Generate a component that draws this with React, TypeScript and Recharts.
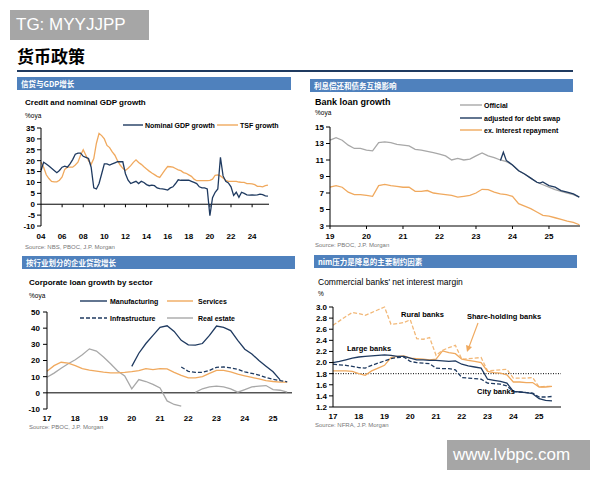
import React from "react";
import { LineChart, Line, XAxis, YAxis, ReferenceLine } from "recharts";

const NAVY = "#1f3a60";
const ORANGE = "#f0a95e";
const LIGHT_ORANGE = "#f2b878";
const GRAY = "#a8a8a8";
const BAR = "#4f81bd";
const LATIN = "'Liberation Sans', Arial, sans-serif";
const CJK = "'Noto Sans CJK SC', sans-serif";

// Credit and nominal GDP growth, quarterly from Q1 2004
const gdpYears = [2004, 2006, 2008, 2010, 2012, 2014, 2016, 2018, 2020, 2022, 2024];
const nominalGdp = [
  15.5, 19.3, 18.5, 17.5, 16.5, 15.5, 14.5, 15.5, 17, 17.5, 17, 18.5,
  20.5, 23, 23.5, 23.5, 22, 21.5, 21, 17, 7.5, 7, 9.5, 14,
  18.5, 18.5, 18, 18.5, 19, 19.5, 19.5, 19.5, 14, 11, 9.5, 10,
  10.5, 9.5, 10.5, 10, 9, 8.5, 8.8, 8.5, 7.5, 7.2, 7, 6.8,
  6.5, 7.5, 8, 9.5, 11.2, 11, 11, 11, 11, 10.5, 10, 9.5,
  8, 7.5, 7.5, 7, -5.3, 3, 5.5, 7, 21.5, 13, 10.5, 9.8,
  8, 4, 5.5, 3.2, 5.5, 5, 4.3, 4.2, 4.3, 4.2, 4.3, 4.6,
  4.4, 3.8, 3.7,
];
const tsfGrowth = [
  19.3, 17, 13.5, 11.8, 10.5, 10.3, 10.3, 11, 12.5, 16, 17, 17,
  17, 18, 19.3, 22.5, 25, 22.5, 20, 18.3, 21, 28, 32.5, 31.5,
  30, 27, 26, 24, 22.5, 20, 18, 16.5, 15.5, 16.5, 17.7, 19.2,
  20.4, 19.2, 18.3, 17.2, 16.2, 15.2, 14.3, 13.6, 12.8, 12.3, 14, 15.8,
  17.3, 17.2, 17, 16.4, 15.8, 15.4, 14.5, 14.2, 13.5, 12.8, 11.5, 10.8,
  10.8, 10.8, 10.8, 10.8, 11, 11.5, 13.3, 13.5, 13, 12, 11, 10.5,
  10.5, 10.5, 10.5, 10.2, 10, 10, 9.5, 9.5, 9.3, 9, 8.2, 8.2,
  8, 8.5, 8.8,
];

// Bank loan growth, every two months from Jan 2019
const loanYears = [2019, 2020, 2021, 2022, 2023, 2024, 2025];
const officialLoans = [
  13.4, 13.7, 13.4, 12.8, 12.4, 12.4, 12.2, 12.1, 13.1, 13.2, 13.1, 12.9,
  12.8, 12.7, 12.3, 12.2, 12.05, 11.9, 11.7, 11.5, 11.0, 11.2, 11.0, 11.1,
  11.5, 11.85, 11.5, 11.3, 11.0, 10.8, 10.4, 9.7, 9.3, 8.8, 8.3, 8.0,
  7.7, 7.4, 7.2, 7.0, 6.8, 6.5,
];
const exInterest = [
  7.7, 7.9, 7.7, 7.1, 6.8, 6.8, 6.7, 6.6, 7.9, 8.05, 7.9, 7.8,
  7.7, 7.7, 7.2, 7.2, 7.3, 7.0, 6.9, 6.8, 6.7, 6.5, 6.6, 6.7,
  7.0, 7.45, 7.4, 7.1, 6.9, 6.8, 6.6, 5.7, 5.4, 5.1, 4.7, 4.3,
  4.2, 4.0, 3.8, 3.6, 3.45, 3.15,
];
const swapDates = [
  2023.67, 2023.75, 2023.83, 2024.0, 2024.17, 2024.33, 2024.5, 2024.67,
  2024.75, 2024.83, 2025.0, 2025.17, 2025.33, 2025.5, 2025.67, 2025.83,
];
const adjustedLoans = [
  10.95, 11.95, 10.95, 10.4, 9.7, 9.3, 8.8, 8.3, 8.2, 8.35, 7.9, 7.7, 7.3, 7.1, 6.9, 6.5,
];

// Corporate loan growth by sector, quarterly
const sectorYears = [2017, 2018, 2019, 2020, 2021, 2022, 2023, 2024, 2025];
const manufacturing = [
  16.4, 24.5, 30.5, 35.5, 40.5, 41.5, 38, 32.5, 29.7, 29.5, 30.5, 35.5,
  41.3, 40.5, 38.5, 32.5, 27, 24, 20, 16.5, 13, 8,
];
const services = [
  13.3, 16.8, 18.9, 18.4, 16.8, 15, 14, 13.4, 12.8, 12.3, 12.3, 12.6,
  13.1, 13.7, 15, 14.4, 15, 14.8, 12.7, 10.8, 9.2, 9.2, 10, 12,
  13.9, 13.9, 12.9, 11.6, 10.5, 9.5, 8.6, 7.6, 7, 6.6, 6.6,
];
const infrastructure = [
  16, 13.3, 12.7, 12.7, 13.9, 15.8, 16, 15.4, 14.5, 13, 12, 11, 9.5, 8.3, 7.6, 6.8,
];
const realEstate = [
  9.6, 12.2, 15.2, 18, 20.5, 23.6, 27.2, 25.8, 22.2, 18, 13.5, 10.5,
  2.5, 8.2, 7, 5.2, 3, -5, -7.2, -8.2, null, 0.3, 2.5, 3.7,
  4.1, 3.7, 2.5, 0.4, 2, 3.7, 4.1, 4.5, 2, 1.6, 0.4,
];

// Net interest margin, quarterly from Q1 2017
const nimYears = [2017, 2018, 2019, 2020, 2021, 2022, 2023, 2024, 2025];
const nimTicks = [1.2, 1.4, 1.6, 1.8, 2.0, 2.2, 2.4, 2.6, 2.8, 3.0];
const largeBanks = [
  2.0, 2.02, 2.05, 2.08, 2.1, 2.11, 2.12, 2.13, 2.14, 2.13, 2.11, 2.11,
  2.08, 2.05, 2.05, 2.04, 2.04, 2.03, 2.02, 2.03, 1.97, 1.94, 1.92, 1.9,
  1.7, 1.68, 1.66, 1.63, 1.48, 1.47, 1.46, 1.44, 1.35, 1.32, 1.31,
];
const cityBanks = [
  1.97, 1.96, 1.95, 1.93, 1.91, 1.9, 1.95, 1.99, 2.03, 2.07, 2.09, 2.1,
  2.02, 2.0, 1.99, 1.98, 1.9, 1.89, 1.89, 1.87, 1.73, 1.72, 1.71, 1.7,
  1.63, 1.62, 1.61, 1.58, 1.48, 1.47, 1.46, 1.45, 1.38, 1.38, 1.39,
];
const shareHolding = [
  1.85, 1.85, 1.85, 1.84, 1.8, 1.77, 1.85, 1.9, 1.95, 2.09, 2.11, 2.12,
  2.08, 2.07, 2.06, 2.05, 2.06, 2.21, 2.18, 2.16, 2.06, 2.04, 2.02, 2.0,
  1.84, 1.82, 1.81, 1.78, 1.65, 1.65, 1.64, 1.64, 1.56, 1.56, 1.57,
];
const ruralBanks = [
  2.67, 2.75, 2.83, 2.9, 2.88, 2.85, 2.9, 2.95, 3.0, 2.69, 2.7, 2.72,
  2.77, 2.43, 2.42, 2.45, 2.13, 2.22, 2.27, 2.31, 2.06, 2.07, 2.08, 2.09,
  1.85, 1.86, 1.87, 1.88, 1.72, 1.72, 1.72, 1.73, 1.56, 1.57, 1.57,
];

const stepped = (start: number, step: number, values: (number | null)[]) =>
  values.map((v, i) => ({ x: start + i * step, y: v }));
const paired = (xs: number[], values: number[]) => xs.map((x, i) => ({ x, y: values[i] }));
const yy = (v: number) => String(Math.round(v) % 100).padStart(2, "0");

const tickFont = { fontSize: 8, fontWeight: 700, fill: "#000", fontFamily: LATIN };
const axisStroke = { stroke: "#000" };

function T({ x, y, s = 7, b = false, c = "#000", f = LATIN, children }: any) {
  return (
    <div
      style={{
        position: "absolute", left: x, top: y, transform: "translateY(-50%)",
        fontSize: s, fontWeight: b ? 700 : 400, color: c, fontFamily: f,
        whiteSpace: "nowrap", lineHeight: 1,
      }}
    >
      {children}
    </div>
  );
}

function Key({ x1, x2, y, color, dash }: any) {
  return (
    <svg style={{ position: "absolute", left: x1, top: y - 2 }} width={x2 - x1} height={4}>
      <line x1={0} x2={x2 - x1} y1={2} y2={2} stroke={color} strokeWidth={1.4} strokeDasharray={dash} />
    </svg>
  );
}

function Bar({ x, y, w, children }: any) {
  return (
    <div
      style={{
        position: "absolute", left: x, top: y, width: w, height: 13, background: BAR,
        color: "#fff", fontSize: 7.5, fontWeight: 700, fontFamily: CJK, lineHeight: "13px",
        paddingLeft: 4, boxSizing: "border-box",
      }}
    >
      {children}
    </div>
  );
}

function Box({ x, y, w, children }: any) {
  return (
    <div
      style={{
        position: "absolute", left: x, top: y, width: w, height: 30, background: "#a6a6a6",
        color: "#fff", fontSize: 17, fontFamily: LATIN, lineHeight: "30px", paddingLeft: 6,
        boxSizing: "border-box",
      }}
    >
      {children}
    </div>
  );
}

function series(data: any[], color: string, dash?: string) {
  return (
    <Line
      data={data}
      dataKey="y"
      type="linear"
      stroke={color}
      strokeWidth={1.3}
      strokeDasharray={dash}
      dot={false}
      activeDot={false}
      isAnimationActive={false}
    />
  );
}

function CreditChart() {
  return (
    <div style={{ position: "absolute", left: 0, top: 120 }}>
      <LineChart width={290} height={125} margin={{ top: 8, right: 21, bottom: 0, left: 0 }}>
        <XAxis type="number" dataKey="x" domain={[2004, 2025.6]} ticks={gdpYears} interval={0}
          tickFormatter={yy} axisLine={false} tickLine={false} tickSize={5} height={19} tick={tickFont} />
        <YAxis type="number" domain={[-10, 35]} ticks={[-10, -5, 0, 5, 10, 15, 20, 25, 30, 35]} interval={0}
          width={41} axisLine={axisStroke} tickLine={axisStroke} tickSize={4} tick={tickFont} />
        <ReferenceLine y={0} stroke="#000" />
        {gdpYears.slice(1).map((yr) => (
          <ReferenceLine key={yr} segment={[{ x: yr, y: 0 }, { x: yr, y: -1.4 }]} stroke="#000" />
        ))}
        {series(stepped(2004, 0.25, tsfGrowth), ORANGE)}
        {series(stepped(2004, 0.25, nominalGdp), NAVY)}
      </LineChart>
    </div>
  );
}

function LoanChart() {
  return (
    <div style={{ position: "absolute", left: 300, top: 120 }}>
      <LineChart width={300} height={125} margin={{ top: 7, right: 20, bottom: 0, left: 0 }}>
        <XAxis type="number" dataKey="x" domain={[2019, 2025.85]} ticks={loanYears} interval={0}
          tickFormatter={yy} axisLine={axisStroke} tickLine={axisStroke} tickSize={3} tickMargin={4}
          height={19} tick={tickFont} />
        <YAxis type="number" domain={[3, 15]} ticks={[3, 5, 7, 9, 11, 13, 15]} interval={0}
          width={30} axisLine={axisStroke} tickLine={axisStroke} tickSize={4} tick={tickFont} />
        {series(stepped(2019, 1 / 6, exInterest), ORANGE)}
        {series(stepped(2019, 1 / 6, officialLoans), GRAY)}
        {series(paired(swapDates, adjustedLoans), NAVY)}
      </LineChart>
    </div>
  );
}

function SectorChart() {
  return (
    <div style={{ position: "absolute", left: 0, top: 305 }}>
      <LineChart width={300} height={125} margin={{ top: 7, right: 8, bottom: 0, left: 0 }}>
        <XAxis type="number" dataKey="x" domain={[2017, 2025.67]} ticks={sectorYears} interval={0}
          tickFormatter={yy} axisLine={false} tickLine={false} tickSize={4} tickMargin={2}
          height={21} tick={tickFont} />
        <YAxis type="number" domain={[-10, 50]} ticks={[-10, 0, 10, 20, 30, 40, 50]} interval={0}
          width={47} axisLine={axisStroke} tickLine={axisStroke} tickSize={4} tickMargin={3} tick={tickFont} />
        <ReferenceLine y={0} stroke="#000" />
        {series(stepped(2017, 0.25, realEstate), GRAY)}
        {series(stepped(2017, 0.25, services), ORANGE)}
        {series(stepped(2021.75, 0.25, infrastructure), NAVY, "4 2")}
        {series(stepped(2020, 0.25, manufacturing), NAVY)}
      </LineChart>
    </div>
  );
}

function MarginChart() {
  return (
    <div style={{ position: "absolute", left: 300, top: 300 }}>
      <LineChart width={300} height={125} margin={{ top: 7, right: 39, bottom: 0, left: 0 }}>
        <XAxis type="number" dataKey="x" domain={[2017, 2025.85]} ticks={nimYears} interval={0}
          tickFormatter={yy} axisLine={axisStroke} tickLine={false} tickSize={4} tickMargin={2}
          height={18} tick={tickFont} />
        <YAxis type="number" domain={[1.2, 3.0]} ticks={nimTicks} interval={0}
          tickFormatter={(v: number) => v.toFixed(1)}
          width={33} axisLine={axisStroke} tickLine={axisStroke} tickSize={4} tick={tickFont} />
        <ReferenceLine y={1.8} stroke="#000" strokeDasharray="1 1.5" />
        {series(stepped(2017, 0.25, ruralBanks), LIGHT_ORANGE, "4 2")}
        {series(stepped(2017, 0.25, shareHolding), ORANGE)}
        {series(stepped(2017, 0.25, cityBanks), NAVY, "4 2")}
        {series(stepped(2017, 0.25, largeBanks), NAVY)}
      </LineChart>
    </div>
  );
}

export default function App() {
  return (
    <div
      style={{
        position: "absolute", left: 0, top: 0, width: 600, height: 480,
        background: "#fff", overflow: "hidden", fontFamily: LATIN,
      }}
    >
      <Box x={10} y={10} w={139}>TG: MYYJJPP</Box>
      <T x={17} y={55} s={17} b f={CJK}>货币政策</T>
      <div style={{ position: "absolute", left: 17, top: 70, width: 556, height: 2, background: NAVY }} />

      <Bar x={17} y={77} w={274}>信贷与GDP增长</Bar>
      <Bar x={310} y={79} w={263}>利息偿还和债务互换影响</Bar>
      <Bar x={22} y={256} w={273}>按行业划分的企业贷款增长</Bar>
      <Bar x={314} y={255} w={263}>nim压力是降息的主要制约因素</Bar>

      <CreditChart />
      <LoanChart />
      <SectorChart />
      <MarginChart />

      <T x={25} y={103} s={8} b>Credit and nominal GDP growth</T>
      <T x={25} y={116} s={6.5}>%oya</T>
      <Key x1={123} x2={143} y={125} color={NAVY} />
      <T x={145} y={125} s={7} b>Nominal GDP growth</T>
      <Key x1={217} x2={238} y={125} color={ORANGE} />
      <T x={240} y={125} s={7} b>TSF growth</T>
      <T x={25} y={247} s={6} c="#777">Source: NBS, PBOC, J.P. Morgan</T>

      <T x={315} y={102} s={9} b>Bank loan growth</T>
      <T x={315} y={113} s={6.5}>%oya</T>
      <Key x1={460} x2={482} y={105} color={GRAY} />
      <T x={484} y={105} s={7} b>Official</T>
      <Key x1={460} x2={482} y={117.5} color={NAVY} />
      <T x={484} y={117.5} s={7} b>adjusted for debt swap</T>
      <Key x1={460} x2={482} y={130} color={ORANGE} />
      <T x={484} y={130} s={7} b>ex. interest repayment</T>
      <T x={315} y={245} s={6} c="#777">Source: PBOC, J.P. Morgan</T>

      <T x={29} y={283} s={8} b>Corporate loan growth by sector</T>
      <T x={29} y={296} s={6.5}>%oya</T>
      <Key x1={80} x2={107} y={301} color={NAVY} />
      <T x={110} y={301} s={7} b>Manufacturing</T>
      <Key x1={167} x2={193} y={301} color={ORANGE} />
      <T x={198} y={301} s={7} b>Services</T>
      <Key x1={80} x2={107} y={318} color={NAVY} dash="4 2" />
      <T x={110} y={318} s={7} b>Infrastructure</T>
      <Key x1={167} x2={193} y={318} color={GRAY} />
      <T x={198} y={318} s={7} b>Real estate</T>
      <T x={29} y={427} s={6} c="#777">Source: PBOC, J.P. Morgan</T>

      <T x={318} y={282} s={8.5}>Commercial banks' net interest margin</T>
      <T x={318} y={294} s={6.5}>%</T>
      <T x={401} y={315} s={7.5} b>Rural banks</T>
      <T x={467} y={317} s={7.5} b>Share-holding banks</T>
      <T x={347} y={349} s={7.5} b>Large banks</T>
      <T x={477} y={392} s={7.5} b>City banks</T>
      <svg style={{ position: "absolute", left: 460, top: 320 }} width={25} height={34}>
        <line x1={18} y1={3} x2={9} y2={27} stroke={ORANGE} strokeWidth={1.2} />
        <polygon points="6,25 12,27 7,32" fill={ORANGE} />
      </svg>
      <T x={315} y={425} s={6} c="#777">Source: NFRA, J.P. Morgan</T>

      <Box x={447} y={440} w={143}>www.lvbpc.com</Box>
    </div>
  );
}
